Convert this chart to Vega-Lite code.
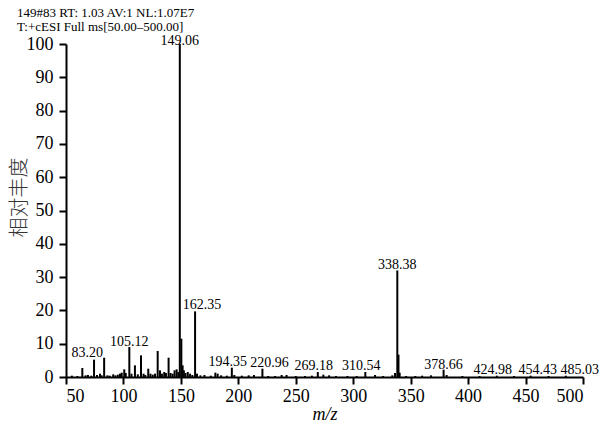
{
  "$schema": "https://vega.github.io/schema/vega-lite/v6.json",
  "autosize": "none",
  "width": 517,
  "height": 333,
  "padding": {"left": 66, "top": 44, "right": 17, "bottom": 48},
  "background": "white",
  "title": {
    "text": ["149#83 RT: 1.03 AV:1 NL:1.07E7", "T:+cESI Full ms[50.00–500.00]"],
    "anchor": "start",
    "frame": "group",
    "dx": -49,
    "dy": 0,
    "offset": 0,
    "font": "Liberation Serif",
    "fontSize": 13,
    "fontWeight": "normal",
    "lineHeight": 14.5,
    "color": "black"
  },
  "config": {
    "view": {"stroke": null},
    "axis": {
      "domainColor": "black",
      "domainWidth": 2,
      "tickColor": "black",
      "tickWidth": 2,
      "tickSize": 7,
      "grid": false,
      "labelFont": "Liberation Serif",
      "labelFontSize": 18,
      "labelColor": "black"
    }
  },
  "data": {
    "values": [
      {"mz": 55.1, "intensity": 0.4},
      {"mz": 60.0, "intensity": 0.3},
      {"mz": 64.2, "intensity": 2.7},
      {"mz": 67.0, "intensity": 0.5},
      {"mz": 69.1, "intensity": 0.6},
      {"mz": 72.0, "intensity": 0.4},
      {"mz": 74.4, "intensity": 5.2},
      {"mz": 77.0, "intensity": 0.6},
      {"mz": 79.6, "intensity": 1.0},
      {"mz": 81.0, "intensity": 0.5},
      {"mz": 83.2, "intensity": 5.8, "label": "83.20"},
      {"mz": 86.0, "intensity": 0.5},
      {"mz": 88.0, "intensity": 0.4},
      {"mz": 91.1, "intensity": 0.8},
      {"mz": 93.0, "intensity": 0.5},
      {"mz": 95.1, "intensity": 0.7},
      {"mz": 97.0, "intensity": 1.0},
      {"mz": 98.5, "intensity": 1.3},
      {"mz": 100.7, "intensity": 2.3},
      {"mz": 102.0, "intensity": 1.2},
      {"mz": 105.12, "intensity": 9.0, "label": "105.12"},
      {"mz": 107.0, "intensity": 1.0},
      {"mz": 110.0, "intensity": 3.5},
      {"mz": 112.5, "intensity": 0.8},
      {"mz": 115.3, "intensity": 6.5},
      {"mz": 117.5, "intensity": 1.0},
      {"mz": 119.0, "intensity": 0.6},
      {"mz": 121.6, "intensity": 2.5},
      {"mz": 123.5, "intensity": 1.0},
      {"mz": 125.5, "intensity": 0.7},
      {"mz": 127.5, "intensity": 1.0},
      {"mz": 129.8, "intensity": 7.8},
      {"mz": 131.8, "intensity": 2.0},
      {"mz": 133.5, "intensity": 1.0},
      {"mz": 135.5, "intensity": 1.5},
      {"mz": 137.0, "intensity": 1.2},
      {"mz": 139.3, "intensity": 5.8},
      {"mz": 141.0, "intensity": 1.2},
      {"mz": 142.8, "intensity": 1.0},
      {"mz": 144.5, "intensity": 2.0},
      {"mz": 146.3, "intensity": 2.3},
      {"mz": 147.8, "intensity": 1.5},
      {"mz": 149.06, "intensity": 100, "label": "149.06"},
      {"mz": 150.4, "intensity": 11.5},
      {"mz": 151.5, "intensity": 3.5},
      {"mz": 152.6, "intensity": 2.0},
      {"mz": 154.0, "intensity": 1.2},
      {"mz": 156.0, "intensity": 1.5},
      {"mz": 158.0, "intensity": 1.0},
      {"mz": 160.0, "intensity": 0.6},
      {"mz": 162.35, "intensity": 19.7, "label": "162.35"},
      {"mz": 164.0, "intensity": 1.0},
      {"mz": 167.0, "intensity": 0.5},
      {"mz": 170.5, "intensity": 0.6},
      {"mz": 176.0, "intensity": 0.4},
      {"mz": 180.0, "intensity": 1.3},
      {"mz": 182.0, "intensity": 1.0},
      {"mz": 185.0, "intensity": 0.5},
      {"mz": 190.0, "intensity": 0.4},
      {"mz": 194.35, "intensity": 2.8, "label": "194.35"},
      {"mz": 196.5, "intensity": 0.6},
      {"mz": 203.0, "intensity": 0.4},
      {"mz": 209.0, "intensity": 0.5},
      {"mz": 213.6, "intensity": 0.6},
      {"mz": 220.96, "intensity": 2.5, "label": "220.96"},
      {"mz": 226.0, "intensity": 0.3},
      {"mz": 232.0, "intensity": 0.3},
      {"mz": 237.7, "intensity": 0.6},
      {"mz": 242.0, "intensity": 0.6},
      {"mz": 250.0, "intensity": 0.3},
      {"mz": 258.0, "intensity": 0.3},
      {"mz": 264.0, "intensity": 0.4},
      {"mz": 269.18, "intensity": 1.5, "label": "269.18"},
      {"mz": 274.0, "intensity": 0.7},
      {"mz": 279.0, "intensity": 0.5},
      {"mz": 285.0, "intensity": 0.3},
      {"mz": 295.0, "intensity": 0.3},
      {"mz": 303.0, "intensity": 0.3},
      {"mz": 310.54, "intensity": 1.5, "label": "310.54"},
      {"mz": 319.0, "intensity": 0.6},
      {"mz": 326.0, "intensity": 0.3},
      {"mz": 334.0, "intensity": 0.5},
      {"mz": 336.4, "intensity": 1.2},
      {"mz": 338.38, "intensity": 32, "label": "338.38"},
      {"mz": 339.4, "intensity": 6.7},
      {"mz": 340.4, "intensity": 1.3},
      {"mz": 346.0, "intensity": 0.3},
      {"mz": 354.0, "intensity": 0.3},
      {"mz": 360.0, "intensity": 0.4},
      {"mz": 367.7, "intensity": 0.5},
      {"mz": 378.66, "intensity": 2.2, "label": "378.66"},
      {"mz": 381.3, "intensity": 0.6},
      {"mz": 395.0, "intensity": 0.3},
      {"mz": 410.0, "intensity": 0.3},
      {"mz": 424.98, "intensity": 0.4, "label": "424.98"},
      {"mz": 440.0, "intensity": 0.3},
      {"mz": 454.43, "intensity": 0.4, "label": "454.43"},
      {"mz": 470.0, "intensity": 0.3},
      {"mz": 485.03, "intensity": 0.4, "label": "485.03"}
    ]
  },
  "encoding": {
    "x": {
      "field": "mz",
      "type": "quantitative",
      "scale": {"domain": [50, 500], "nice": false, "zero": false},
      "axis": {
        "values": [50, 100, 150, 200, 250, 300, 350, 400, 450, 500],
        "labelPadding": 3,
        "title": "m/z",
        "titleFont": "Liberation Serif",
        "titleFontStyle": "italic",
        "titleFontWeight": "normal",
        "titleFontSize": 18,
        "titleColor": "black",
        "titleX": 258.5,
        "titleY": 42,
        "titleAlign": "center",
        "titleBaseline": "alphabetic"
      }
    },
    "y": {
      "field": "intensity",
      "type": "quantitative",
      "scale": {"domain": [0, 100], "nice": false},
      "axis": {
        "values": [0, 10, 20, 30, 40, 50, 60, 70, 80, 90, 100],
        "labelPadding": 6,
        "title": "相对丰度",
        "titleFont": "Noto Sans CJK SC",
        "titleFontWeight": 300,
        "titleFontSize": 20,
        "titleColor": "#333333",
        "titleAngle": -90,
        "titleX": -47,
        "titleY": 153,
        "titleAlign": "center",
        "titleBaseline": "middle"
      }
    }
  },
  "layer": [
    {
      "mark": {"type": "rule", "color": "black", "strokeWidth": 2},
      "encoding": {"y2": {"datum": 0}}
    },
    {
      "transform": [{"filter": {"field": "label", "oneOf": ["149.06"]}}],
      "mark": {"type": "text", "font": "Liberation Serif", "fontSize": 14, "color": "black", "align": "center", "baseline": "alphabetic", "dy": 1},
      "encoding": {"text": {"field": "label"}}
    },
    {
      "transform": [{"filter": {"field": "label", "oneOf": ["105.12", "338.38", "378.66"]}}],
      "mark": {"type": "text", "font": "Liberation Serif", "fontSize": 14, "color": "black", "align": "center", "baseline": "alphabetic", "dy": -1},
      "encoding": {"text": {"field": "label"}}
    },
    {
      "transform": [{"filter": {"field": "label", "oneOf": ["194.35", "269.18", "310.54", "424.98"]}}],
      "mark": {"type": "text", "font": "Liberation Serif", "fontSize": 14, "color": "black", "align": "center", "baseline": "alphabetic", "dy": -2, "dx": -4},
      "encoding": {"text": {"field": "label"}}
    },
    {
      "transform": [{"filter": {"field": "label", "oneOf": ["162.35", "220.96", "454.43"]}}],
      "mark": {"type": "text", "font": "Liberation Serif", "fontSize": 14, "color": "black", "align": "center", "baseline": "alphabetic", "dy": -2, "dx": 7},
      "encoding": {"text": {"field": "label"}}
    },
    {
      "transform": [{"filter": {"field": "label", "oneOf": ["83.20"]}}],
      "mark": {"type": "text", "font": "Liberation Serif", "fontSize": 14, "color": "black", "align": "center", "baseline": "alphabetic", "dy": -1, "dx": -17},
      "encoding": {"text": {"field": "label"}}
    },
    {
      "transform": [{"filter": {"field": "label", "oneOf": ["485.03"]}}],
      "mark": {"type": "text", "font": "Liberation Serif", "fontSize": 14, "color": "black", "align": "center", "baseline": "alphabetic", "dy": -2, "dx": 14},
      "encoding": {"text": {"field": "label"}}
    }
  ]
}
